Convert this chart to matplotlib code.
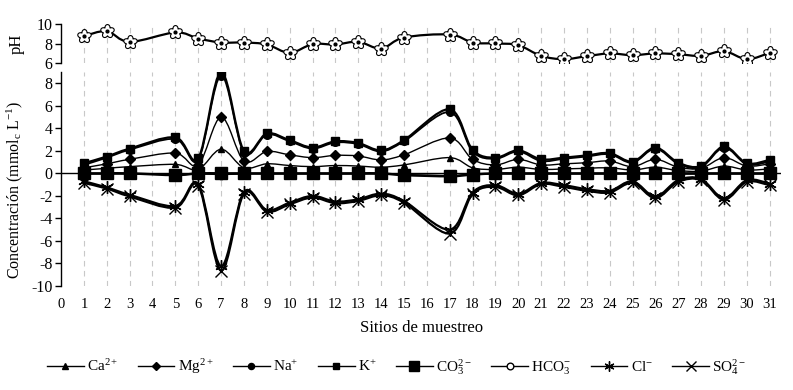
import numpy as np
import matplotlib
matplotlib.use('Agg')
import matplotlib.pyplot as plt
from matplotlib.path import Path
from matplotlib.patches import PathPatch
from matplotlib.lines import Line2D

plt.rcParams['font.family'] = ['Liberation Serif', 'DejaVu Serif']
plt.rcParams['mathtext.fontset'] = 'custom'
plt.rcParams['mathtext.rm'] = 'Liberation Serif'
plt.rcParams['mathtext.it'] = 'Liberation Serif:italic'
plt.rcParams['axes.unicode_minus'] = False

# sampling sites (4 and 16 have no data)
sites = [1, 2, 3, 5, 6, 7, 8, 9, 10, 11, 12, 13, 14, 15, 17, 18, 19, 20, 21, 22, 23, 24, 25, 26, 27, 28, 29, 30, 31]

pH = [8.77, 9.28, 8.19, 9.15, 8.53, 8.12, 8.12, 7.92, 7.06, 7.95, 7.92, 8.19, 7.5, 8.63, 8.94,
      8.12, 8.02, 7.85, 6.75, 6.41, 6.72, 7.0, 6.82, 7.0, 6.92, 6.75, 7.23, 6.41, 7.06]

ca = [0.3, 0.45, 0.6, 0.8, 0.35, 2.15, 0.5, 0.85, 0.7, 0.6, 0.7, 0.65, 0.55, 0.75, 1.4,
      0.5, 0.35, 0.55, 0.35, 0.4, 0.45, 0.5, 0.3, 0.55, 0.25, 0.2, 0.65, 0.3, 0.4]
mg = [0.5, 0.85, 1.25, 1.8, 0.75, 5.0, 1.1, 1.95, 1.65, 1.4, 1.6, 1.55, 1.2, 1.65, 3.15,
      1.25, 0.75, 1.25, 0.75, 0.85, 0.95, 1.1, 0.6, 1.25, 0.55, 0.45, 1.4, 0.65, 0.85]
na = [0.75, 1.4, 2.1, 3.05, 1.2, 8.7, 1.85, 3.45, 2.85, 2.2, 2.75, 2.6, 1.95, 2.85, 5.45,
      1.95, 1.3, 1.95, 1.1, 1.3, 1.5, 1.7, 0.95, 2.2, 0.85, 0.55, 2.3, 0.8, 1.05]
k = [0.9, 1.5, 2.2, 3.2, 1.35, 9.0, 2.0, 3.55, 2.95, 2.3, 2.85, 2.7, 2.05, 2.95, 5.7,
     2.1, 1.4, 2.05, 1.25, 1.4, 1.6, 1.8, 1.05, 2.3, 0.95, 0.65, 2.4, 0.9, 1.2]
co3 = [0.0, 0.0, 0.0, -0.15, 0.0, 0.0, 0.0, 0.0, 0.0, 0.0, 0.0, 0.0, 0.0, -0.15, -0.25,
       -0.1, 0.0, 0.0, 0.0, 0.0, 0.0, 0.0, 0.0, 0.0, 0.0, 0.0, 0.0, 0.0, 0.0]
hco3 = [-0.05, -0.05, -0.05, -0.1, -0.05, -0.1, -0.05, -0.05, -0.05, -0.05, -0.05, -0.05, -0.05, -0.1, -0.2,
        -0.05, -0.05, -0.05, -0.05, -0.05, -0.05, -0.05, -0.05, -0.05, -0.05, -0.05, -0.05, -0.05, -0.05]
cl = [-0.7, -1.25, -1.9, -2.9, -0.95, -8.25, -1.65, -3.25, -2.6, -2.0, -2.5, -2.3, -1.8, -2.45, -5.0,
      -1.7, -1.05, -1.8, -0.85, -1.05, -1.4, -1.55, -0.7, -2.05, -0.6, -0.5, -2.2, -0.6, -0.9]
so4 = [-0.85, -1.35, -2.05, -3.05, -1.1, -8.65, -1.8, -3.4, -2.75, -2.15, -2.65, -2.45, -1.95, -2.6, -5.35,
       -1.85, -1.2, -1.95, -0.95, -1.2, -1.55, -1.7, -0.85, -2.2, -0.75, -0.6, -2.35, -0.75, -1.05]


def smooth_line(ax, x, y, lw, zorder=3):
    # Excel-like smoothed line drawn as cubic Bezier path
    pts = np.column_stack([x, y]).astype(float)
    n = len(pts)
    verts = [pts[0]]
    codes = [Path.MOVETO]
    for i in range(n - 1):
        p0 = pts[max(i - 1, 0)]
        p1 = pts[i]
        p2 = pts[i + 1]
        p3 = pts[min(i + 2, n - 1)]
        verts += [p1 + (p2 - p0) / 6, p2 - (p3 - p1) / 6, p2]
        codes += [Path.CURVE4] * 3
    ax.add_patch(PathPatch(Path(verts, codes), fill=False, lw=lw, edgecolor='black',
                           zorder=zorder, joinstyle='round', capstyle='round'))


# flower marker for pH
t = np.linspace(0, 2 * np.pi, 121)
r = 0.62 + 0.38 * np.abs(np.cos(2.5 * t))
flower = Path(np.column_stack([r * np.sin(t), r * np.cos(t)]), closed=True)
asterisk = (6, 2, 0)

fig = plt.figure(figsize=(7.93, 3.9), dpi=100)
ax_ph = fig.add_axes([0.077, 0.838, 0.908, 0.1])
ax = fig.add_axes([0.077, 0.267, 0.908, 0.548])

for a in (ax_ph, ax):
    a.set_xlim(0, 31.5)
    for s in ('top', 'right', 'bottom'):
        a.spines[s].set_visible(False)
    a.spines['left'].set_linewidth(1.0)
    for xi in range(1, 32):
        a.axvline(xi, color='#c8c8c8', lw=0.8, ls=(0, (5, 4)), zorder=0)
    a.tick_params(axis='y', direction='out', length=4, width=1, labelsize=11.5, pad=2)

# pH panel
ax_ph.set_ylim(6, 10)
ax_ph.set_yticks([6, 8, 10])
ax_ph.set_xticks([])
smooth_line(ax_ph, sites, pH, 1.6)
ax_ph.plot(sites, pH, ls='none', marker=flower, ms=10, mfc='white', mec='black', mew=0.8, zorder=4)
ax_ph.plot(sites, pH, ls='none', marker='o', ms=2.0, color='black', zorder=5)
ax_ph.set_ylabel('pH', fontsize=12)

# main panel
ax.set_ylim(-10, 9)
ax.set_yticks(range(-10, 9, 2))
ax.axhline(0, color='black', lw=1.0, zorder=1)
ax.set_xticks(range(0, 32))
ax.tick_params(axis='x', length=0, labelsize=10.5, pad=9)

series = [
    (ca, '^', 5, 'black', 1.0, 4, r'Ca$^{2+}$'),
    (mg, 'D', 5, 'black', 1.0, 4, r'Mg$^{2+}$'),
    (na, 'o', 5.5, 'black', 1.3, 4, r'Na$^{+}$'),
    (k, 's', 5.5, 'black', 1.6, 4, r'K$^{+}$'),
    (co3, 's', 9, 'black', 1.8, 5, r'CO$_3^{2-}$'),
    (hco3, 'o', 6, 'white', 1.0, 2, r'HCO$_3^{-}$'),
    (cl, asterisk, 9, 'black', 1.6, 4, r'Cl$^{-}$'),
    (so4, 'x', 9, 'black', 1.6, 4, r'SO$_4^{2-}$'),
]

handles = []
for vals, mk, ms, fc, lw, z, lab in series:
    smooth_line(ax, sites, vals, lw, zorder=z - 1)
    ax.plot(sites, vals, ls='none', marker=mk, ms=ms, mfc=fc, mec='black', mew=1.0, zorder=z)
    handles.append(Line2D([], [], color='black', lw=1.0, marker=mk, ms=ms * 0.8,
                          mfc=fc, mec='black', mew=1.0, label=lab))

ax.set_ylabel(r'Concentración (mmol$_{\rm c}$ L$^{-1}$)', fontsize=11.5)
ax.set_xlabel('Sitios de muestreo', fontsize=12, labelpad=6)
ax_ph.yaxis.set_label_coords(-0.05, 0.5)
ax.yaxis.set_label_coords(-0.05, 0.45)

fig.legend(handles=handles, loc='center', bbox_to_anchor=(0.5, 0.06), ncol=8, frameon=False,
           fontsize=11, handlelength=2.4, handletextpad=0.2, columnspacing=1.3)

fig.savefig('out.png', dpi=100)
